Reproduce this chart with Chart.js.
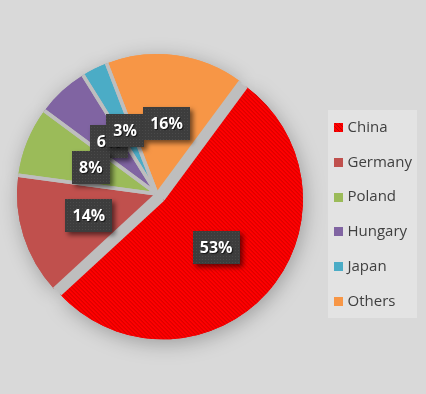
<!DOCTYPE html>
<html>
<head>
<meta charset="utf-8">
<script src="https://cdn.jsdelivr.net/npm/chart.js@4.4.0/dist/chart.umd.min.js"></script>
<style>
  html, body { margin: 0; padding: 0; background: #d9d9d9; }
  #wrap { width: 426px; height: 394px; }
</style>
</head>
<body>
<div id="wrap"><canvas id="myChart" width="426" height="394"></canvas></div>
<script>
// data
var countries = ['China', 'Germany', 'Poland', 'Hungary', 'Japan', 'Others'];
var shares = [53, 14, 8, 6, 3, 16];
var explode = [8, 0, 0, 0, 0, 0];
var sliceColors = ['#ff0000', '#c0504d', '#9bbb59', '#8064a2', '#4bacc6', '#f79646'];
// Hungary's label sits underneath its neighbours
var labelOrder = [3, 0, 1, 2, 4, 5];

function makePattern(w, h, base, dark, test) {
  var c = document.createElement('canvas');
  c.width = w; c.height = h;
  var g = c.getContext('2d');
  g.fillStyle = base;
  g.fillRect(0, 0, w, h);
  g.fillStyle = dark;
  for (var x = 0; x < w; x++) {
    for (var y = 0; y < h; y++) {
      if (test(x, y)) g.fillRect(x, y, 1, 1);
    }
  }
  return g.createPattern(c, 'repeat');
}

var ctx = document.getElementById('myChart').getContext('2d');
var redHatch = makePattern(4, 4, '#ff0000', '#c80000', function (x, y) { return (x - y + 4) % 4 === 0; });
var boxTexture = makePattern(3, 3, '#3d3d3d', '#4a4a4a', function (x, y) { return x === 1 && y === 1; });

var fills = sliceColors.slice();
fills[0] = redHatch;

function shiftOf(a, i) {
  var m = (a.startAngle + a.endAngle) / 2;
  return { x: Math.cos(m) * explode[i], y: Math.sin(m) * explode[i] };
}

// draws the pie itself: shadow, grey bed, slices, grey seams, boxed labels
var pieDraw = {
  id: 'pieDraw',
  beforeDatasetsDraw: function (chart) {
    var c = chart.ctx;
    var arcs = chart.getDatasetMeta(0).data;

    // shadow pass
    c.save();
    c.shadowColor = 'rgba(0,0,0,0.28)';
    c.shadowBlur = 20;
    c.shadowOffsetX = 2;
    c.shadowOffsetY = 4;
    arcs.forEach(function (a, i) {
      var s = shiftOf(a, i);
      c.save();
      c.translate(s.x, s.y);
      a.draw(c);
      c.restore();
    });
    c.restore();

    // grey bed seen through the gaps
    var a0 = arcs[0];
    c.save();
    c.fillStyle = '#bebebe';
    c.beginPath();
    c.arc(a0.x, a0.y, a0.outerRadius - 1, 0, Math.PI * 2);
    c.fill();
    c.restore();

    // slices
    arcs.forEach(function (a, i) {
      var s = shiftOf(a, i);
      c.save();
      c.translate(s.x, s.y);
      a.draw(c);
      c.restore();
    });

    // seams between slices
    c.save();
    c.strokeStyle = '#bebebe';
    c.lineWidth = 3.5;
    arcs.forEach(function (a, i) {
      var s = shiftOf(a, i);
      [a.startAngle, a.endAngle].forEach(function (ang) {
        c.beginPath();
        c.moveTo(a.x + s.x, a.y + s.y);
        c.lineTo(a.x + s.x + Math.cos(ang) * a.outerRadius, a.y + s.y + Math.sin(ang) * a.outerRadius);
        c.stroke();
      });
    });
    c.restore();

    // labels
    c.save();
    c.font = 'bold 16px "Open Sans"';
    c.textAlign = 'center';
    c.textBaseline = 'middle';
    labelOrder.forEach(function (i) {
      var a = arcs[i];
      var mid = (a.startAngle + a.endAngle) / 2;
      var r = a.outerRadius * 0.51 + explode[i];
      var x = a.x + Math.cos(mid) * r;
      var y = a.y + Math.sin(mid) * r;
      var text = shares[i] + '%';
      var w = Math.round(c.measureText(text).width + 14);
      var h = 33;
      c.save();
      c.shadowColor = 'rgba(0,0,0,0.55)';
      c.shadowBlur = 5;
      c.shadowOffsetX = 3;
      c.shadowOffsetY = 3;
      c.fillStyle = boxTexture;
      c.fillRect(Math.round(x - w / 2), Math.round(y - h / 2), w, h);
      c.restore();
      c.save();
      c.shadowColor = 'rgba(0,0,0,0.7)';
      c.shadowBlur = 1;
      c.shadowOffsetX = 1;
      c.shadowOffsetY = 1;
      c.fillStyle = '#ffffff';
      c.fillText(text, x, y + 1);
      c.restore();
    });
    c.restore();
    return false;
  }
};

// legend panel on the right
var sideLegend = {
  id: 'sideLegend',
  afterDraw: function (chart) {
    var c = chart.ctx;
    c.save();
    c.fillStyle = '#e3e3e3';
    c.fillRect(328, 110, 89, 208);
    c.font = '15px "Open Sans"';
    c.textBaseline = 'middle';
    c.textAlign = 'left';
    countries.forEach(function (name, i) {
      var y = 127.5 + i * 34.8;
      c.fillStyle = fills[i];
      c.fillRect(334, Math.round(y - 4.5), 9, 9);
      c.fillStyle = '#404040';
      c.fillText(name, 347.5, y);
    });
    c.restore();
  }
};

var myChart = new Chart(ctx, {
  type: 'pie',
  data: {
    labels: countries,
    datasets: [{
      data: shares,
      backgroundColor: fills,
      borderWidth: 0,
      hoverOffset: 0,
      radius: 140
    }]
  },
  options: {
    responsive: false,
    animation: false,
    rotation: 36.5,
    layout: { padding: { left: 0, top: 0, right: 112, bottom: 6 } },
    plugins: {
      legend: { display: false },
      tooltip: { enabled: false }
    }
  },
  plugins: [pieDraw, sideLegend]
});
</script>
</body>
</html>
